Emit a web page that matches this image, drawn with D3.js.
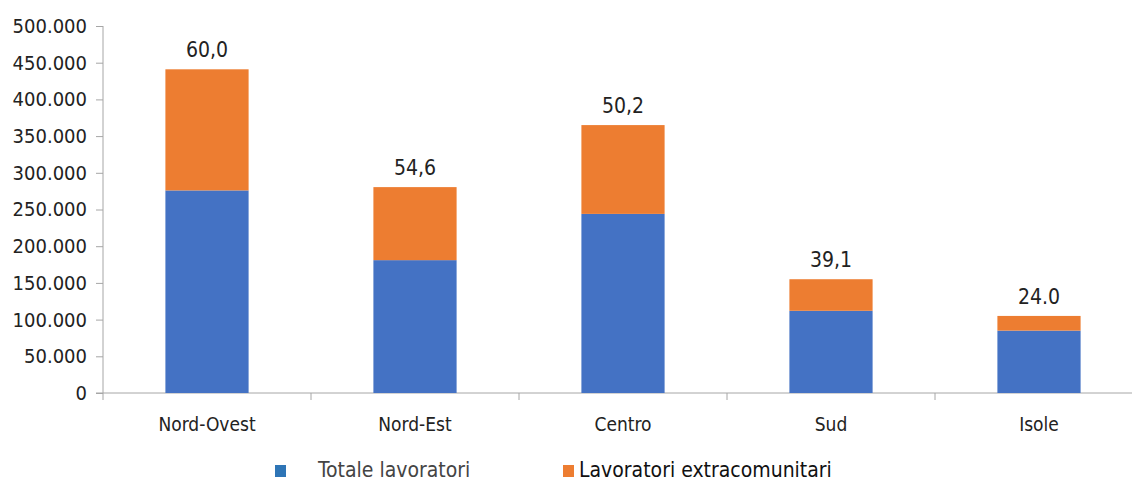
<!DOCTYPE html>
<html>
<head>
<meta charset="utf-8">
<script src="https://cdn.jsdelivr.net/npm/d3@7"></script>
<style>
  body { margin: 0; background: #fff; }
  text { font-family: "Liberation Sans Narrow", "DejaVu Sans Condensed", "Liberation Sans", sans-serif; fill: #222; }
</style>
</head>
<body>
<svg id="chart" width="1132" height="479"></svg>
<script>
var regions = ["Nord-Ovest", "Nord-Est", "Centro", "Sud", "Isole"];
var totale = [276000, 181000, 244000, 112000, 85000];
var extra = [165000, 99500, 121000, 43000, 20000];
var labels = ["60,0", "54,6", "50,2", "39,1", "24.0"];
var yTicks = [0, 50000, 100000, 150000, 200000, 250000, 300000, 350000, 400000, 450000, 500000];
var seriesNames = ["Totale lavoratori", "Lavoratori extracomunitari"];

var svg = d3.select("#chart");
var mLeft = 103, mRight = 1143, mTop = 26, mBottom = 393;

var x = d3.scaleBand().domain(regions).range([mLeft, mRight]).paddingInner(0.6).paddingOuter(0.3);
var y = d3.scaleLinear().domain([0, 500000]).range([mBottom, mTop]);
var fmt = function(d) { return d === 0 ? "0" : d3.format(",")(d).replace(/,/g, "."); };

// y axis
var yAxis = svg.append("g")
    .attr("transform", "translate(" + mLeft + ",0)")
    .call(d3.axisLeft(y).tickValues(yTicks).tickSize(7).tickPadding(9).tickFormat(fmt));
yAxis.select(".domain").attr("stroke", "#a6a6a6").attr("d", "M0," + mTop + "V" + mBottom);
yAxis.selectAll(".tick line").attr("stroke", "#a6a6a6");
yAxis.selectAll(".tick text").style("font-size", "20px").attr("fill", "#222");

// x axis with ticks between categories
var bounds = d3.range(regions.length + 1).map(function(i) { return mLeft + i * x.step(); });
svg.append("line").attr("x1", mLeft - 7).attr("x2", 1132).attr("y1", mBottom).attr("y2", mBottom)
    .attr("stroke", "#a6a6a6");
svg.selectAll(".xt").data(bounds).join("line")
    .attr("x1", function(d) { return d; }).attr("x2", function(d) { return d; })
    .attr("y1", mBottom).attr("y2", mBottom + 7)
    .attr("stroke", "#a6a6a6");
svg.selectAll(".xl").data(regions).join("text")
    .attr("x", function(d) { return x(d) + x.bandwidth() / 2; })
    .attr("y", 431)
    .attr("text-anchor", "middle")
    .style("font-size", "19px")
    .text(function(d) { return d; });

// bars
var g = svg.append("g");
g.selectAll(".b1").data(regions).join("rect")
    .attr("x", function(d) { return x(d); })
    .attr("width", x.bandwidth())
    .attr("y", function(d, i) { return y(totale[i]); })
    .attr("height", function(d, i) { return mBottom - y(totale[i]); })
    .attr("fill", "#4472c4");
g.selectAll(".b2").data(regions).join("rect")
    .attr("x", function(d) { return x(d); })
    .attr("width", x.bandwidth())
    .attr("y", function(d, i) { return y(totale[i] + extra[i]); })
    .attr("height", function(d, i) { return y(totale[i]) - y(totale[i] + extra[i]); })
    .attr("fill", "#ed7d31");

// value labels
svg.selectAll(".vl").data(regions).join("text")
    .attr("x", function(d) { return x(d) + x.bandwidth() / 2; })
    .attr("y", function(d, i) { return y(totale[i] + extra[i]) - 12; })
    .attr("text-anchor", "middle")
    .style("font-size", "21px")
    .text(function(d, i) { return labels[i]; });

// legend
var legend = [
  {name: seriesNames[0], color: "#2e75b6", sx: 275, tx: 318, fill: "#444"},
  {name: seriesNames[1], color: "#ed7d31", sx: 563, tx: 579, fill: "#111"}
];
legend.forEach(function(l) {
  svg.append("rect").attr("x", l.sx).attr("y", 465).attr("width", 11).attr("height", 12).attr("fill", l.color);
  svg.append("text").attr("x", l.tx).attr("y", 477).attr("fill", l.fill).style("fill", l.fill)
      .style("font-size", "21px").text(l.name);
});
</script>
</body>
</html>
